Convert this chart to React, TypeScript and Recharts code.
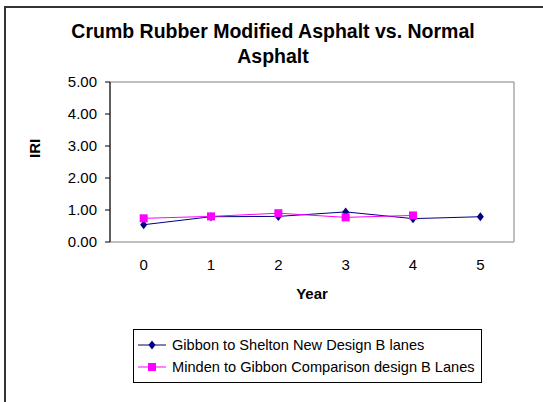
import React from "react";
import {
  LineChart, Line, XAxis, YAxis, Legend, ReferenceArea, Label,
} from "recharts";

const YEARS = [0, 1, 2, 3, 4, 5];
const GIBBON_SHELTON = [0.54, 0.79, 0.80, 0.94, 0.73, 0.79];
const MINDEN_GIBBON = [0.74, 0.80, 0.90, 0.77, 0.83, null];
const Y_TICKS = [0, 1, 2, 3, 4, 5];
const BAND_TICKS = [-0.5, 0.5, 1.5, 2.5, 3.5, 4.5, 5.5];

const SERIES = [
  { key: "gibbon", name: "Gibbon to Shelton New Design B lanes", color: "#000080", shape: "diamond" },
  { key: "minden", name: "Minden to Gibbon Comparison design B Lanes", color: "#FF00FF", shape: "square" },
];

const data = YEARS.map((y, i) => ({
  year: y,
  gibbon: GIBBON_SHELTON[i],
  minden: MINDEN_GIBBON[i],
}));

const FONT = "Arial, 'Liberation Sans', sans-serif";

function Marker({ cx, cy, shape, color, size }: any) {
  if (cx == null || cy == null) return null;
  if (shape === "square") {
    return <rect x={cx - size} y={cy - size} width={size * 2} height={size * 2} fill={color} />;
  }
  return (
    <polygon
      points={`${cx},${cy - size - 1} ${cx + size},${cy} ${cx},${cy + size + 1} ${cx - size},${cy}`}
      fill={color}
    />
  );
}

function LegendBox() {
  return (
    <div style={{ border: "1px solid #000", background: "#fff", padding: "4px 0 4px 4px", fontFamily: FONT, fontSize: 14.6, color: "#000" }}>
      {SERIES.map((s) => (
        <div key={s.key} style={{ display: "flex", alignItems: "center", height: 22 }}>
          <svg width={30} height={12} style={{ marginRight: 4 }}>
            <line x1={0} y1={6} x2={28} y2={6} stroke={s.color} strokeWidth={1} />
            <Marker cx={14} cy={6} shape={s.shape} color={s.color} size={s.shape === "square" ? 4 : 3.5} />
          </svg>
          <span>{s.name}</span>
        </div>
      ))}
    </div>
  );
}

export default function App() {
  return (
    <div style={{ position: "fixed", left: 0, top: 0, width: 543, height: 402, overflow: "hidden", background: "#fff" }}>
      <div style={{ position: "absolute", left: 4, top: 6, right: 0, bottom: 0, borderLeft: "2px solid #333", borderTop: "2px solid #333" }} />
      <div style={{ position: "absolute", left: 0, top: 19, width: 546, textAlign: "center", fontFamily: FONT, fontWeight: "bold", fontSize: 19.5, lineHeight: "25px" }}>
        Crumb Rubber Modified Asphalt vs. Normal<br />Asphalt
      </div>
      <LineChart
        width={543}
        height={402}
        data={data}
        margin={{ top: 82, right: 29, left: 50, bottom: 100 }}
        style={{ position: "absolute", left: 0, top: 0 }}
      >
        <ReferenceArea x1={-0.5} x2={5.5} y1={0} y2={5} fill="none" stroke="#808080" strokeWidth={1} ifOverflow="visible" />
        <XAxis
          xAxisId="band"
          type="number"
          dataKey="year"
          domain={[-0.5, 5.5]}
          ticks={BAND_TICKS}
          tick={false}
          tickSize={5}
          height={0}
          axisLine={{ stroke: "#000" }}
          tickLine={{ stroke: "#000" }}
        />
        <XAxis
          type="number"
          dataKey="year"
          domain={[-0.5, 5.5]}
          ticks={YEARS}
          axisLine={false}
          tickLine={false}
          tick={{ fill: "#000", fontSize: 15, fontFamily: FONT }}
          tickMargin={11}
          height={60}
        >
          <Label value="Year" position="insideBottom" offset={3} style={{ fill: "#000", fontSize: 15, fontWeight: "bold", fontFamily: FONT }} />
        </XAxis>
        <YAxis
          domain={[0, 5]}
          ticks={Y_TICKS}
          width={60}
          tickFormatter={(v: number) => v.toFixed(2)}
          tick={{ fill: "#000", fontSize: 15, fontFamily: FONT }}
          tickSize={5}
          tickMargin={8}
          axisLine={{ stroke: "#000" }}
          tickLine={{ stroke: "#000" }}
        >
          <Label value="IRI" angle={-90} position="insideLeft" offset={-15} dy={-4} style={{ fill: "#000", fontSize: 15, fontWeight: "bold", fontFamily: FONT }} />
        </YAxis>
        <Legend
          layout="vertical"
          align="center"
          verticalAlign="middle"
          wrapperStyle={{ left: 133, top: 329, width: 349, height: 51 }}
          content={() => <LegendBox />}
        />
        <Line
          type="linear"
          dataKey="gibbon"
          name={SERIES[0].name}
          stroke="#000080"
          strokeWidth={1}
          dot={(p: any) => <Marker key={p.index} {...p} shape="diamond" color="#000080" size={3.5} />}
          isAnimationActive={false}
        />
        <Line
          type="linear"
          dataKey="minden"
          name={SERIES[1].name}
          stroke="#FF00FF"
          strokeWidth={1}
          dot={(p: any) => <Marker key={p.index} {...p} shape="square" color="#FF00FF" size={4} />}
          isAnimationActive={false}
        />
      </LineChart>
    </div>
  );
}
